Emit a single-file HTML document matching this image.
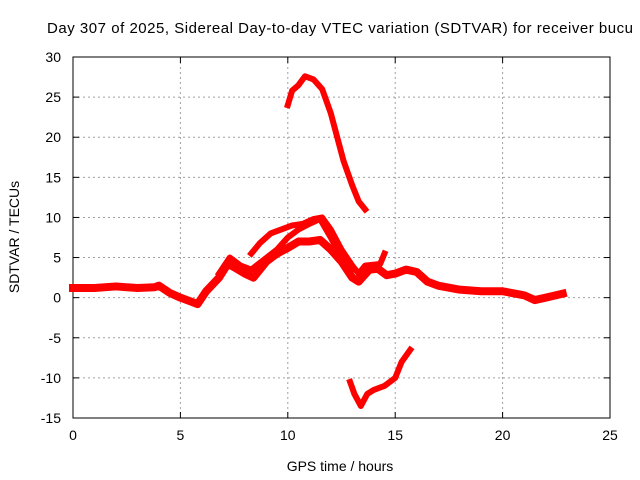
<!DOCTYPE html>
<html><head><meta charset="utf-8"><style>
html,body{margin:0;padding:0;background:#fff;}
svg{display:block;font-family:"Liberation Sans",sans-serif;}
</style></head><body>
<svg id="chart" width="640" height="480" viewBox="0 0 640 480">
<text x="47" y="33" font-size="15" textLength="586" lengthAdjust="spacing">Day 307 of 2025, Sidereal Day-to-day VTEC variation (SDTVAR) for receiver bucu</text>
<g id="grid"></g>
<g id="axes"></g>
<g id="series"></g>
<text x="340" y="471" font-size="14" text-anchor="middle">GPS time / hours</text>
<text transform="translate(19,237) rotate(-90)" font-size="14" text-anchor="middle">SDTVAR / TECUs</text>
</svg>
<script>
const xTicks=[0,5,10,15,20,25];
const yTicks=[30,25,20,15,10,5,0,-5,-10,-15];
const baseH=[0,1,2,3,3.8,4,4.5,5,5.5,5.8,6.2,6.8,7.2,7.5,8,8.4,9,9.5,10,10.5,11,11.5,12,12.5,13,13.3,13.8,14.2,14.6,15,15.5,16,16.5,17,18,19,20,21,21.5,22,22.8];
const baseV=[1.2,1.2,1.4,1.2,1.3,1.5,0.6,0,-0.5,-0.8,0.8,2.5,4.2,3.8,3,2.5,4.5,5.5,6.2,7,7,7.2,6,4.5,2.5,2,3.5,3.6,2.8,3,3.5,3.2,2,1.5,1,0.8,0.8,0.3,-0.3,0,0.5];
const upH=[8.3,8.7,9.2,9.7,10.2,10.7,11.2,11.6,12,12.5,13,13.3,13.6,14.3,14.5];
const upV=[5.5,6.8,8,8.5,9,9.2,9.8,10,8.5,6,4,3,4,4.2,5.5];
const midH=[6.8,7.3,7.8,8.3,9.5,10,10.5,11,11.5,12,12.5,13];
const midV=[3,5,4,3.5,6,7.5,8.5,9.2,9.8,7.5,5,3.5];
const topH=[10,10.2,10.5,10.8,11.2,11.6,12,12.3,12.6,13,13.3,13.6];
const topV=[24,25.8,26.5,27.6,27.2,26,23,20,17,14,12,11];
const botH=[12.9,13.1,13.4,13.7,14,14.5,15,15.3,15.7];
const botV=[-10.5,-12,-13.5,-12,-11.5,-11,-10,-8,-6.5];
const X0=73,X1=610,Y0=57,Y1=418;
const xs=h=>X0+h*(X1-X0)/25;
const ys=v=>Y0+(30-v)*(Y1-Y0)/45;
const NS="http://www.w3.org/2000/svg";
function mk(t,a,p){const e=document.createElementNS(NS,t);for(const k in a)e.setAttribute(k,a[k]);p.appendChild(e);return e;}
const grid=document.getElementById('grid'),axes=document.getElementById('axes'),ser=document.getElementById('series');
xTicks.forEach(t=>{
 if(t>0&&t<25){const l=mk('line',{x1:xs(t),x2:xs(t),y1:Y0,y2:Y1,stroke:'#a0a0a0','stroke-dasharray':'2,3'},grid);
 
 }
 const tx=mk('text',{x:xs(t),y:Y1+22,'font-size':14,'text-anchor':'middle'},axes);tx.textContent=t;
 
 
 mk('line',{x1:xs(t),x2:xs(t),y1:Y1,y2:Y1-6,stroke:'#000'},axes);
 mk('line',{x1:xs(t),x2:xs(t),y1:Y0,y2:Y0+6,stroke:'#000'},axes);
});
yTicks.forEach(t=>{
 if(t<30&&t>-15){const l=mk('line',{x1:X0,x2:X1,y1:ys(t),y2:ys(t),stroke:'#a0a0a0','stroke-dasharray':'2,3'},grid);
 
 }
 const tx=mk('text',{x:X0-12,y:ys(t)+5,'font-size':14,'text-anchor':'end'},axes);tx.textContent=t;
 
 
 mk('line',{x1:X0,x2:X0+6,y1:ys(t),y2:ys(t),stroke:'#000'},axes);
 mk('line',{x1:X1,x2:X1-6,y1:ys(t),y2:ys(t),stroke:'#000'},axes);
});
const fr=mk('rect',{x:X0,y:Y0,width:X1-X0,height:Y1-Y0,fill:'none',stroke:'#000'},axes);


function draw(H,V,w,name){
 const pts=H.map((h,i)=>xs(h)+','+ys(V[i])).join(' ');
 const p=mk('polyline',{points:pts,fill:'none',stroke:'#ff0000','stroke-width':w,'stroke-linejoin':'round','stroke-linecap':'square'},ser);
 
 
}
draw(baseH,baseV,8,'series-baseline');
draw(upH,upV,6,'series-upper-band');
draw(midH,midV,6,'series-middle-band');
draw(topH,topV,6,'series-top-arc');
draw(botH,botV,6,'series-bottom-arc');
</script>
</body></html>
